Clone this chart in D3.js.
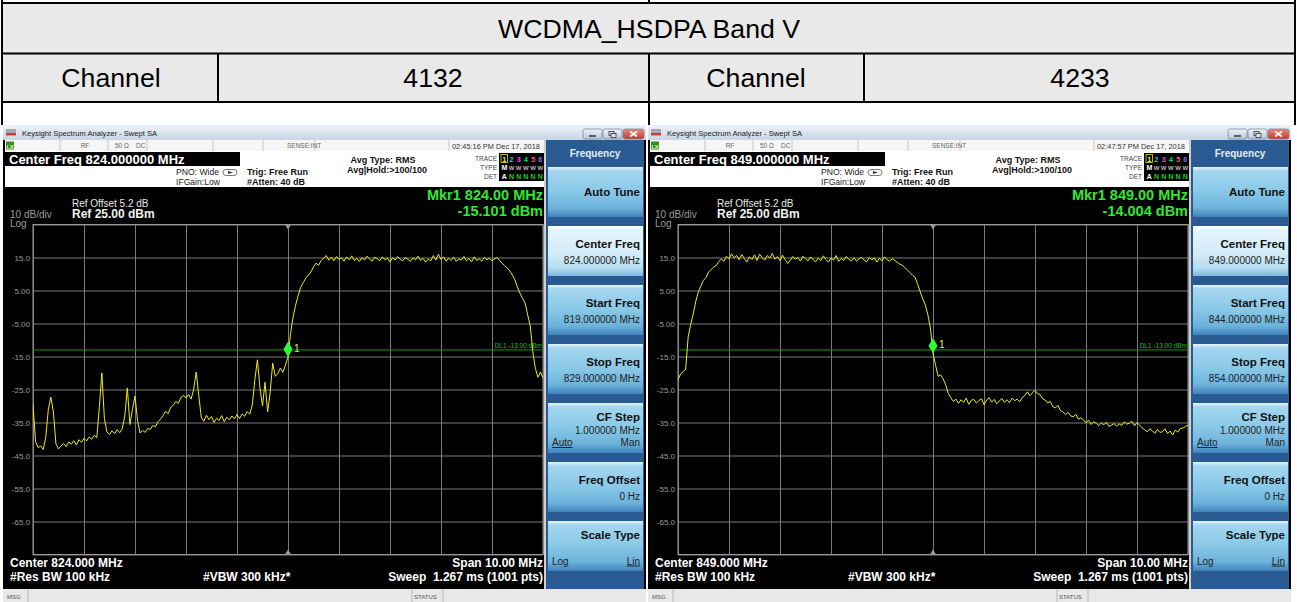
<!DOCTYPE html>
<html>
<head>
<meta charset="utf-8">
<title>WCDMA_HSDPA Band V</title>
<script src="https://cdn.jsdelivr.net/npm/d3@7/dist/d3.min.js"></script>
<style>
  body { margin: 0; background: #fff; }
  svg { display: block; font-family: "Liberation Sans", Arial, sans-serif; }
</style>
</head>
<body>
<svg id="chart" width="1297" height="602"></svg>
<script>
// ---- DATA ----
const bandTitle = "WCDMA_HSDPA Band V";
const channelLabel = "Channel";
const channels = ["4132", "4233"];
const centerFreqs = [824, 849];            // MHz
const spanMHz = 10;
const stepMHz = 0.05;                      // spacing of the trace points below
const refLevel = 25;                       // dBm
const dbPerDiv = 10;
const yTickValues = [15, 5, -5, -15, -25, -35, -45, -55, -65];
const yTickLabels = ["15.0", "5.00", "-5.00", "-15.0", "-25.0", "-35.0", "-45.0", "-55.0", "-65.0"];
const markerLevels = [-15.101, -14.004];   // Mkr1 reading, dBm
const displayLine = -13;                   // DL1, dBm
const sweepStamps = ["02:45:16 PM Dec 17, 2018", "02:47:57 PM Dec 17, 2018"];

// trace 1 readings, 819 -> 829 MHz
const trace4132 = [
  -29.5, -40.8, -42.6, -42.1, -43.2, -39.5, -31.0, -27.3, -31.8, -41.5,
  -43.0, -42.1, -41.4, -42.3, -40.9, -41.6, -40.5, -41.8, -40.2, -41.0,
  -39.8, -40.6, -39.4, -40.1, -38.9, -39.6, -30.5, -20.0, -33.8, -37.9,
  -38.6, -37.5, -38.4, -37.2, -38.1, -36.9, -33.0, -24.5, -35.6, -31.0,
  -27.0, -34.5, -38.2, -37.4, -38.0, -36.8, -37.1, -35.9, -36.3, -34.8,
  -34.0, -32.9, -31.6, -32.3, -30.4, -29.8, -28.6, -29.2, -27.4, -26.8,
  -27.6, -26.5, -27.9, -25.0, -19.7, -26.8, -33.5, -34.6, -32.8, -34.1,
  -33.2, -35.0, -33.7, -34.4, -32.9, -34.8, -33.4, -34.2, -33.0, -33.9,
  -32.6, -33.8, -32.4, -33.1, -31.7, -32.5, -29.7, -22.0, -16.0, -24.5,
  -30.0, -22.8, -31.8, -26.0, -17.0, -21.0, -20.2, -18.5, -19.8, -17.6,
  -15.1, -8.0, -3.0, 0.6, 3.5, 6.0, 7.4, 8.8, 9.6, 10.6,
  12.2, 13.3, 12.6, 14.1, 14.8, 15.6, 14.2, 15.1, 14.0, 15.3,
  14.4, 14.9, 13.9, 15.2, 14.3, 15.5, 14.1, 14.7, 13.8, 15.0,
  14.2, 15.4, 14.5, 13.9, 15.1, 14.6, 14.0, 15.2, 14.3, 14.8,
  13.7, 14.9, 14.2, 15.3, 14.4, 14.0, 15.0, 14.5, 13.8, 14.9,
  14.3, 15.4, 14.1, 14.7, 13.6, 14.5, 14.0, 15.6, 14.2, 16.0,
  14.4, 15.2, 13.9, 14.8, 14.1, 15.1, 13.8, 14.6, 14.2, 15.3,
  14.0, 14.7, 13.7, 15.2, 14.1, 14.6, 13.9, 15.0, 14.3, 14.8,
  14.0, 14.6, 15.0, 14.1, 13.2, 12.5, 11.8, 10.9, 9.7, 8.2,
  6.0, 4.1, 2.6, 1.2, -2.4, -5.8, -13.5, -18.6, -21.3, -19.7,
  -21.5
];

// trace 1 readings, 844 -> 854 MHz
const trace4233 = [
  -22.0, -20.3, -19.6, -18.8, -9.0, -5.2, -2.1, 1.8, 4.6, 6.4,
  8.1, 8.9, 10.6, 11.4, 12.1, 12.6, 13.8, 14.5, 13.9, 15.4,
  14.6, 16.1, 14.9, 15.6, 14.3, 15.9, 14.7, 13.6, 15.2, 14.4,
  15.8, 14.1, 16.0, 15.0, 14.2, 15.6, 14.8, 16.2, 14.5, 15.3,
  14.0, 15.7, 14.4, 13.2, 14.1, 15.3, 14.5, 15.0, 13.9, 15.4,
  14.6, 14.0, 15.2, 14.3, 13.7, 14.8, 14.1, 15.5, 14.4, 13.6,
  14.9, 14.2, 15.6, 13.8, 14.7, 14.1, 15.3, 14.4, 14.0, 14.9,
  13.9, 14.6, 15.1, 14.2, 13.7, 15.0, 14.3, 14.9, 13.6, 14.8,
  14.0, 15.2, 14.3, 13.9, 14.6, 14.1, 13.5, 13.0, 12.6, 11.9,
  11.2, 10.4, 9.6, 9.0, 6.8, 4.6, 2.4, 0.6, -2.4, -6.4,
  -14.0, -17.6, -21.0, -20.6, -21.8, -23.6, -26.2, -27.5, -28.6, -27.9,
  -29.2, -28.1, -28.9, -27.6, -29.5, -28.3, -28.0, -29.1, -28.4, -27.8,
  -29.6, -28.2, -27.5, -28.8, -28.0, -29.3, -28.5, -27.7, -28.9, -28.1,
  -29.0, -27.6, -28.4, -27.9, -28.7, -27.4, -26.8, -25.7, -26.9, -26.0,
  -25.2, -26.3, -26.5, -27.8, -28.2, -29.1, -28.6, -30.2, -30.6, -29.8,
  -31.4, -31.8, -32.6, -31.9, -33.0, -33.3, -32.5, -34.0, -33.6, -34.2,
  -35.1, -34.3, -35.6, -34.8, -35.2, -36.0, -35.1, -35.7, -34.9, -36.2,
  -35.8, -35.3, -36.1, -35.4, -35.9, -34.8, -35.5, -35.2, -34.6, -36.0,
  -35.0, -35.8, -36.6, -37.2, -37.8, -36.9, -37.5, -38.3, -37.1, -38.0,
  -37.8, -36.9, -38.4, -37.6, -38.8, -37.3, -37.9, -36.8, -36.7, -36.2,
  -35.8
];
const traces = [trace4132, trace4233];

const menuKeys = [
  { title: "Auto Tune" },
  { title: "Center Freq", value: "center", selected: true },
  { title: "Start Freq", value: "start" },
  { title: "Stop Freq", value: "stop" },
  { title: "CF Step", value: "1.000000 MHz", left: "Auto", right: "Man", underline: "left" },
  { title: "Freq Offset", value: "0 Hz" },
  { title: "Scale Type", left: "Log", right: "Lin", underline: "right" }
];

const svg = d3.select("#chart");
// plain hyphen minus, like the analyzer prints it
const fixed = n => v => v.toFixed(n);
const fmt6 = fixed(6), fmt3 = fixed(3), fmt2 = fixed(2);

// ---- GRADIENTS ----
const defs = svg.append("defs");
function vGrad(id, stops) {
  const lg = defs.append("linearGradient").attr("id", id)
    .attr("x1", 0).attr("y1", 0).attr("x2", 0).attr("y2", 1);
  stops.forEach(s => lg.append("stop").attr("offset", s[0]).attr("stop-color", s[1]));
}
vGrad("titleGrad", [[0, "#eef3f9"], [1, "#c8d5e6"]]);
vGrad("keyGrad", [[0, "#e6f5fc"], [0.08, "#a4d6ee"], [0.5, "#88c8e7"], [0.82, "#6cb2da"], [1, "#3f82bd"]]);
vGrad("keySelGrad", [[0, "#ffffff"], [0.08, "#e6f4fb"], [0.6, "#d0eaf6"], [0.85, "#b3dbef"], [1, "#7fb7dc"]]);
vGrad("winBtnGrad", [[0, "#eef2f8"], [1, "#b9c7da"]]);
vGrad("closeGrad", [[0, "#ee8a7e"], [1, "#c7372b"]]);

// ---- TABLE ----
function drawTable() {
  svg.append("rect").attr("x", 3).attr("y", 4).attr("width", 1291).attr("height", 98).attr("fill", "#e9e9e9");

  const lines = [
    [2, 3, 1295, 3], [2, 53.5, 1295, 53.5], [2, 102, 1295, 102],
    [2, 0, 2, 125], [1295, 0, 1295, 125],
    [649, 0, 649, 4], [649, 53, 649, 125],
    [218, 53, 218, 102], [864, 53, 864, 102]
  ];
  svg.append("g").selectAll("line").data(lines).enter().append("line")
    .attr("x1", d => d[0]).attr("y1", d => d[1]).attr("x2", d => d[2]).attr("y2", d => d[3])
    .attr("stroke", "#000").attr("stroke-width", 2);

  svg.append("text").attr("x", 649).attr("y", 37.5).attr("text-anchor", "middle")
    .attr("font-size", 26.7).attr("fill", "#000").text(bandTitle);

  const cells = [
    [111, channelLabel], [433, channels[0]], [756, channelLabel], [1080, channels[1]]
  ];
  svg.append("g").selectAll("text").data(cells).enter().append("text")
    .attr("x", d => d[0]).attr("y", 86.5).attr("text-anchor", "middle")
    .attr("font-size", 26.7).attr("fill", "#000").text(d => d[1]);
}

// ---- ANALYZER SCREEN ----
function txt(g, x, y, s, size, fill, opts = {}) {
  return g.append("text").attr("x", x).attr("y", y)
    .attr("font-size", size).attr("fill", fill)
    .attr("font-weight", opts.bold ? "bold" : null)
    .attr("text-anchor", opts.anchor || "start")
    .text(s);
}

function drawAnalyzer(k, ox) {
  const center = centerFreqs[k];
  const start = center - spanMHz / 2;
  const stop = center + spanMHz / 2;
  const g = svg.append("g").attr("transform", `translate(${ox},125)`);

  const gl = 30, gr = 540, gt = 99.5, gb = 429.5;
  const x = d3.scaleLinear().domain([start, stop]).range([gl, gr]);
  const y = d3.scaleLinear().domain([refLevel - 10 * dbPerDiv, refLevel]).range([gb, gt]);

  // frame
  g.append("rect").attr("width", 643).attr("height", 477).attr("fill", "#000");

  // title bar
  g.append("rect").attr("width", 643).attr("height", 15).attr("fill", "url(#titleGrad)");
  g.append("rect").attr("x", 3).attr("y", 4).attr("width", 10).attr("height", 7).attr("fill", "#a3a9b1");
  g.append("rect").attr("x", 3).attr("y", 8).attr("width", 10).attr("height", 2).attr("fill", "#d03a30");
  txt(g, 19, 10.5, "Keysight Spectrum Analyzer - Swept SA", 7.6, "#1a1a1a");
  const winBtns = [[580, 19, "winBtnGrad"], [600, 19, "winBtnGrad"], [620, 21, "closeGrad"]];
  g.selectAll("rect.winbtn").data(winBtns).enter().append("rect").attr("class", "winbtn")
    .attr("x", d => d[0]).attr("y", 4).attr("width", d => d[1]).attr("height", 10).attr("rx", 2)
    .attr("fill", d => `url(#${d[2]})`).attr("stroke", "#6e7f98").attr("stroke-width", 0.7);
  g.append("line").attr("x1", 586).attr("x2", 593).attr("y1", 11).attr("y2", 11).attr("stroke", "#333").attr("stroke-width", 1.5);
  g.append("rect").attr("x", 606).attr("y", 6.5).attr("width", 5).attr("height", 4).attr("fill", "none").attr("stroke", "#333").attr("stroke-width", 0.8);
  g.append("rect").attr("x", 608).attr("y", 8.5).attr("width", 5).attr("height", 4).attr("fill", "#dfe6f0").attr("stroke", "#333").attr("stroke-width", 0.8);
  g.append("path").attr("d", "M627,6.5 L634,11.5 M634,6.5 L627,11.5").attr("stroke", "#fff").attr("stroke-width", 1.6);

  // status row
  g.append("rect").attr("x", 2).attr("y", 15).attr("width", 539).attr("height", 11).attr("fill", "#f6f6f6");
  g.append("rect").attr("x", 3).attr("y", 16.5).attr("width", 8).attr("height", 8).attr("fill", "#3c8c1c");
  txt(g, 3.5, 23.5, "LXI", 5.5, "#d8ffb0", { bold: true });
  g.selectAll("line.sep").data([57, 105, 144, 210, 260, 312, 446]).enter().append("line").attr("class", "sep")
    .attr("x1", d => d).attr("x2", d => d).attr("y1", 15).attr("y2", 26).attr("stroke", "#c4c4c4");
  txt(g, 82, 23, "RF", 6.5, "#666", { anchor: "middle" });
  txt(g, 112, 23, "50 Ω", 6.5, "#666");
  txt(g, 133, 23, "DC", 6.5, "#666");
  txt(g, 284, 23, "SENSE:INT", 6.5, "#666");
  txt(g, 449, 23.5, sweepStamps[k], 7.4, "#333");

  // info area
  g.append("rect").attr("x", 2).attr("y", 26).attr("width", 539).attr("height", 36).attr("fill", "#fff");
  g.append("rect").attr("x", 2).attr("y", 27).attr("width", 235).attr("height", 14).attr("fill", "#000");
  txt(g, 6, 38.5, `Center Freq ${fmt6(center)} MHz`, 13, "#fff", { bold: true });
  txt(g, 173, 50, "PNO: Wide", 8.6, "#222");
  txt(g, 173, 59.5, "IFGain:Low", 8.6, "#222");
  g.append("rect").attr("x", 220).attr("y", 44.5).attr("width", 14).attr("height", 6).attr("rx", 3)
    .attr("fill", "none").attr("stroke", "#555").attr("stroke-width", 0.8);
  g.append("path").attr("d", "M225,46 L230,47.5 L225,49 Z").attr("fill", "#333");
  txt(g, 244, 50, "Trig: Free Run", 9, "#111", { bold: true });
  txt(g, 244, 59.5, "#Atten: 40 dB", 9, "#111", { bold: true });
  txt(g, 380, 37.5, "Avg Type: RMS", 9, "#111", { bold: true, anchor: "middle" });
  txt(g, 384, 48, "Avg|Hold:>100/100", 9, "#111", { bold: true, anchor: "middle" });
  txt(g, 494, 35.5, "TRACE", 6.5, "#444", { anchor: "end" });
  txt(g, 494, 44.5, "TYPE", 6.5, "#444", { anchor: "end" });
  txt(g, 494, 53.5, "DET", 6.5, "#444", { anchor: "end" });
  g.append("rect").attr("x", 496).attr("y", 28).attr("width", 45).attr("height", 28).attr("fill", "#000");
  g.append("rect").attr("x", 498).attr("y", 29.5).attr("width", 6.5).attr("height", 8).attr("fill", "none").attr("stroke", "#e8e800").attr("stroke-width", 0.8);
  const traceColors = ["#ffff00", "#00d4ff", "#ff3cff", "#00e070", "#ff5c7a", "#8a6cff"];
  traceColors.forEach((c, i) => {
    txt(g, 501.3 + i * 7.2, 36.5, String(i + 1), 7, c, { bold: true, anchor: "middle" });
    txt(g, 501.3 + i * 7.2, 45, i === 0 ? "M" : "W", i === 0 ? 7 : 6, i === 0 ? "#fff" : "#bbb", { bold: true, anchor: "middle" });
    txt(g, 501.3 + i * 7.2, 54, i === 0 ? "A" : "N", 7, i === 0 ? "#fff" : "#18d018", { bold: true, anchor: "middle" });
  });

  // display annotations
  txt(g, 69, 82, "Ref Offset 5.2 dB", 10, "#e8e8e8");
  txt(g, 69, 93, `Ref ${fmt2(refLevel)} dBm`, 12, "#f0f0f0", { bold: true });
  txt(g, 7, 93, "10 dB/div", 10, "#9a9a9a");
  txt(g, 7, 102, "Log", 10, "#9a9a9a");
  txt(g, 540, 75, `Mkr1 ${fmt2(center)} MHz`, 14.5, "#30e830", { bold: true, anchor: "end" });
  txt(g, 540, 91, `${fmt3(markerLevels[k])} dBm`, 14.5, "#30e830", { bold: true, anchor: "end" });

  // graticule
  const labelOf = new Map(yTickValues.map((v, i) => [v, yTickLabels[i]]));
  const yAxis = g.append("g").attr("transform", `translate(${gl},0)`)
    .call(d3.axisLeft(y).tickValues(d3.range(refLevel - 10 * dbPerDiv, refLevel + 1, dbPerDiv))
      .tickSize(-(gr - gl)).tickPadding(3).tickFormat(d => labelOf.get(d) || ""));
  const xAxis = g.append("g").attr("transform", `translate(0,${gb})`)
    .call(d3.axisBottom(x).tickValues(d3.range(0, 11).map(i => start + i * spanMHz / 10))
      .tickSize(-(gb - gt)).tickFormat(""));
  [yAxis, xAxis].forEach(a => {
    a.select(".domain").remove();
    a.selectAll("line").attr("stroke", "#7b7b7b").attr("stroke-width", 1);
  });
  yAxis.selectAll("text").attr("fill", "#9c9c9c").attr("font-size", 8)
    .attr("font-family", "Liberation Sans, Arial, sans-serif");
  g.append("rect").attr("x", gl).attr("y", gt).attr("width", gr - gl).attr("height", gb - gt)
    .attr("fill", "none").attr("stroke", "#9a9a9a");

  // display line
  g.append("line").attr("x1", gl).attr("x2", gr).attr("y1", y(displayLine)).attr("y2", y(displayLine))
    .attr("stroke", "#00a400").attr("stroke-width", 1);
  txt(g, gr - 1, y(displayLine) - 1.5, `DL1 ${fmt2(displayLine)} dBm`, 6.5, "#12c012", { anchor: "end" });

  // trace
  g.append("clipPath").attr("id", "clip" + k).append("rect")
    .attr("x", gl).attr("y", gt).attr("width", gr - gl).attr("height", gb - gt);
  const line = d3.line().x((d, i) => x(start + i * stepMHz)).y(d => y(d));
  g.append("path").datum(traces[k]).attr("d", line).attr("clip-path", `url(#clip${k})`)
    .attr("fill", "none").attr("stroke", "#ecec12").attr("stroke-width", 1).attr("stroke-linejoin", "round");

  // marker
  const mx = x(center), my = y(markerLevels[k]);
  g.append("path").attr("d", `M${mx - 3},${gt} L${mx + 3},${gt} L${mx},${gt + 5} Z`).attr("fill", "#9a9a9a");
  g.append("path").attr("d", `M${mx - 3},${gb} L${mx + 3},${gb} L${mx},${gb - 5} Z`).attr("fill", "#9a9a9a");
  g.append("path").attr("d", `M${mx},${my} L${mx + 4.5},${my - 7.5} L${mx},${my - 15} L${mx - 4.5},${my - 7.5} Z`)
    .attr("fill", "#2cff2c");
  txt(g, mx + 6, my - 5, "1", 10, "#f0f020");

  // bottom annotations
  txt(g, 7, 442, `Center ${fmt3(center)} MHz`, 12, "#fff", { bold: true });
  txt(g, 7, 456, "#Res BW 100 kHz", 12, "#fff", { bold: true });
  txt(g, 200, 456, "#VBW 300 kHz*", 12, "#fff", { bold: true });
  txt(g, 540, 442, `Span ${fmt2(spanMHz)} MHz`, 12, "#fff", { bold: true, anchor: "end" });
  txt(g, 540, 456, "Sweep  1.267 ms (1001 pts)", 12, "#fff", { bold: true, anchor: "end" })
    .attr("xml:space", "preserve").style("white-space", "pre");

  // status bar
  g.append("rect").attr("x", 0).attr("y", 464).attr("width", 643).attr("height", 13).attr("fill", "#e8e8e8");
  g.selectAll("line.sb").data([25, 409, 440]).enter().append("line").attr("class", "sb")
    .attr("x1", d => d).attr("x2", d => d).attr("y1", 464).attr("y2", 477).attr("stroke", "#b8b8b8");
  txt(g, 4, 473.5, "MSG", 6, "#555");
  txt(g, 411, 473.5, "STATUS", 6, "#555");

  // menu panel
  g.append("rect").attr("x", 541).attr("y", 15).attr("width", 2).attr("height", 449).attr("fill", "#cfcfcf");
  g.append("rect").attr("x", 543).attr("y", 15).attr("width", 98).attr("height", 449).attr("fill", "#2a5a92");
  txt(g, 592, 32, "Frequency", 10, "#e4edf8", { bold: true, anchor: "middle" });

  const keyValue = v => v === "center" ? `${fmt6(center)} MHz`
    : v === "start" ? `${fmt6(start)} MHz`
    : v === "stop" ? `${fmt6(stop)} MHz` : v;

  const keys = g.selectAll("g.key").data(menuKeys).enter().append("g").attr("class", "key")
    .attr("transform", (d, i) => `translate(545,${42 + i * 59})`);
  keys.append("rect").attr("width", 95).attr("height", 50)
    .attr("fill", d => d.selected ? "url(#keySelGrad)" : "url(#keyGrad)");
  keys.each(function (d) {
    const kg = d3.select(this);
    const hasLR = !!d.left;
    const ty = hasLR ? 18 : (d.value ? 21.5 : 29);
    txt(kg, 92, ty, d.title, 11.5, "#111", { bold: true, anchor: "end" });
    if (d.value) txt(kg, 92, hasLR ? 30.5 : 37.5, keyValue(d.value), 10, "#222", { anchor: "end" });
    if (hasLR) {
      const ly = d.value ? 43 : 43.5;
      const lt = txt(kg, 4, ly, d.left, 10, "#222");
      const rt = txt(kg, 92, ly, d.right, 10, "#222", { anchor: "end" });
      (d.underline === "left" ? lt : rt).attr("text-decoration", "underline");
    }
  });
}

drawTable();
drawAnalyzer(0, 3);
drawAnalyzer(1, 648);
</script>
</body>
</html>
